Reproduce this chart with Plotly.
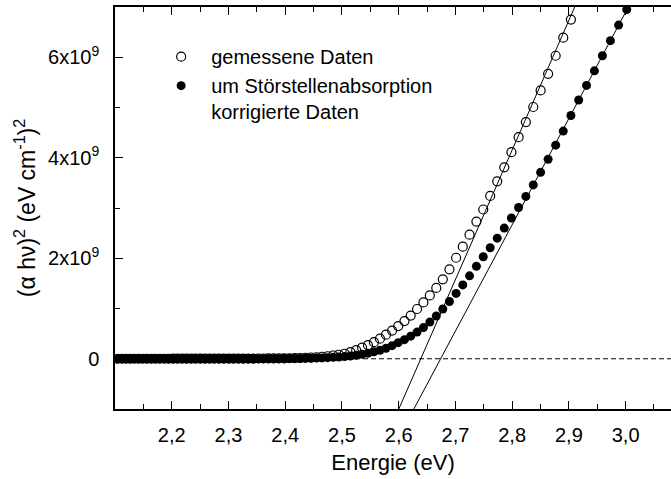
import plotly.graph_objects as go

# Photon energies (eV) of the measured points
energy = [2.1050, 2.1122, 2.1194, 2.1267, 2.1340, 2.1414, 2.1488, 2.1563, 2.1638, 2.1714,
          2.1790, 2.1867, 2.1944, 2.2022, 2.2101, 2.2180, 2.2259, 2.2340, 2.2420, 2.2502,
          2.2584, 2.2666, 2.2749, 2.2833, 2.2918, 2.3003, 2.3088, 2.3175, 2.3262, 2.3349,
          2.3438, 2.3527, 2.3616, 2.3706, 2.3797, 2.3889, 2.3982, 2.4075, 2.4169, 2.4263,
          2.4358, 2.4454, 2.4551, 2.4649, 2.4747, 2.4846, 2.4946, 2.5047, 2.5149, 2.5251,
          2.5355, 2.5459, 2.5564, 2.5670, 2.5776, 2.5884, 2.5992, 2.6102, 2.6212, 2.6324,
          2.6436, 2.6549, 2.6663, 2.6778, 2.6895, 2.7012, 2.7130, 2.7249, 2.7370, 2.7491,
          2.7613, 2.7737, 2.7861, 2.7987, 2.8114, 2.8242, 2.8372, 2.8502, 2.8634, 2.8767,
          2.8901, 2.9036, 2.9173, 2.9311, 2.9450, 2.9591, 2.9732, 2.9876, 3.0020]

# (alpha h nu)^2 in units of 1e9 (eV/cm)^2 -- measured data
measured = [0.000, 0.000, 0.000, 0.000, 0.000, 0.000, 0.000, 0.000, 0.000, 0.000,
            0.000, 0.000, 0.000, 0.001, 0.001, 0.001, 0.001, 0.001, 0.001, 0.002,
            0.002, 0.002, 0.002, 0.002, 0.003, 0.003, 0.003, 0.003, 0.004, 0.004,
            0.004, 0.005, 0.005, 0.006, 0.007, 0.008, 0.009, 0.010, 0.012, 0.015,
            0.020, 0.025, 0.030, 0.040, 0.050, 0.065, 0.080, 0.100, 0.130, 0.170,
            0.220, 0.270, 0.330, 0.400, 0.480, 0.560, 0.650, 0.750, 0.860, 0.990,
            1.120, 1.260, 1.410, 1.580, 1.780, 2.010, 2.230, 2.470, 2.730, 2.970,
            3.240, 3.530, 3.810, 4.110, 4.410, 4.710, 5.010, 5.340, 5.670, 6.030,
            6.390, 6.750, None, None, None, None, None, None, None]

# corrected for impurity absorption
corrected = [0.000, 0.000, 0.000, 0.000, 0.000, 0.000, 0.000, 0.000, 0.000, 0.000,
             0.000, 0.000, 0.000, 0.000, 0.000, 0.000, 0.000, 0.000, 0.000, 0.000,
             0.000, 0.000, 0.000, 0.000, 0.000, 0.001, 0.001, 0.001, 0.001, 0.001,
             0.001, 0.001, 0.001, 0.002, 0.002, 0.002, 0.003, 0.003, 0.004, 0.006,
             0.008, 0.010, 0.013, 0.017, 0.022, 0.028, 0.035, 0.045, 0.055, 0.070,
             0.090, 0.110, 0.140, 0.170, 0.210, 0.260, 0.320, 0.380, 0.450, 0.530,
             0.620, 0.730, 0.850, 0.990, 1.140, 1.300, 1.470, 1.650, 1.840, 2.030,
             2.210, 2.400, 2.600, 2.800, 3.010, 3.230, 3.460, 3.710, 3.970, 4.250,
             4.530, 4.840, 5.150, 5.440, 5.730, 6.030, 6.330, 6.640, 6.950]

# Linear fits: zero crossing (eV) and slope (1e9 per eV)
fit_x0 = [2.639, 2.674]
fit_slope = [25.8, 21.16]

x_ticks = [2.2, 2.3, 2.4, 2.5, 2.6, 2.7, 2.8, 2.9, 3.0]
x_ticktext = ["2,2", "2,3", "2,4", "2,5", "2,6", "2,7", "2,8", "2,9", "3,0"]
x_minor = [2.15, 2.25, 2.35, 2.45, 2.55, 2.65, 2.75, 2.85, 2.95, 3.05]
y_ticks = [0, 2e9, 4e9, 6e9]
y_ticktext = ["0", "2x10<sup>9</sup>", "4x10<sup>9</sup>", "6x10<sup>9</sup>"]
y_minor = [1e9, 3e9, 5e9]

x_range = [2.1, 3.08]
y_range = [-1e9, 7e9]

FONT = "Liberation Sans, Arial, Helvetica, sans-serif"

fig = go.Figure()

# zero line (dashed)
fig.add_trace(go.Scatter(x=x_range, y=[0, 0], mode="lines",
                         line=dict(color="black", width=1, dash="5px,3px"),
                         showlegend=False, hoverinfo="skip", cliponaxis=True))

# fit lines
for x0, s in zip(fit_x0, fit_slope):
    xs = [x0 + y_range[0] / 1e9 / s, x0 + y_range[1] / 1e9 / s]
    fig.add_trace(go.Scatter(x=xs, y=list(y_range), mode="lines",
                             line=dict(color="black", width=1),
                             showlegend=False, hoverinfo="skip"))

fig.add_trace(go.Scatter(x=energy, y=[v * 1e9 if v is not None else None for v in measured],
                         mode="markers", name="gemessene Daten",
                         marker=dict(symbol="circle-open", size=9, color="black",
                                     line=dict(width=1.2, color="black"))))
fig.add_trace(go.Scatter(x=energy, y=[v * 1e9 for v in corrected],
                         mode="markers",
                         name="um Störstellenabsorption<br>korrigierte Daten",
                         marker=dict(symbol="circle", size=9, color="black")))

fig.update_layout(
    width=671, height=479,
    margin=dict(l=115, r=0, t=7, b=70),
    paper_bgcolor="white", plot_bgcolor="white",
    font=dict(family=FONT, size=20, color="black"),
    legend=dict(x=0.065, y=0.925, xanchor="left", yanchor="top",
                bgcolor="rgba(0,0,0,0)", font=dict(size=20, family=FONT),
                valign="top", tracegroupgap=0, itemwidth=50),
    xaxis=dict(range=x_range, showline=True, linecolor="black", linewidth=1.5,
               mirror="ticks", ticks="inside", ticklen=8, tickwidth=1.2, tickcolor="black",
               tickvals=x_ticks, ticktext=x_ticktext, showgrid=False, zeroline=False,
               showspikes=False, ticklabelstandoff=7,
               minor=dict(ticks="inside", ticklen=5, tickwidth=1.2, tickcolor="black",
                          tickmode="array", tickvals=x_minor, showgrid=False),
               title=dict(text="Energie (eV)", font=dict(size=22, family=FONT), standoff=10)),
    yaxis=dict(range=y_range, showline=True, linecolor="black", linewidth=1.5,
               mirror=False, ticks="inside", ticklen=8, tickwidth=1.2, tickcolor="black",
               tickvals=y_ticks, ticktext=y_ticktext, showgrid=False, zeroline=False,
               showspikes=False, ticklabelstandoff=10,
               minor=dict(ticks="inside", ticklen=5, tickwidth=1.2, tickcolor="black",
                          tickmode="array", tickvals=y_minor, showgrid=False),
               title=dict(text="(α hν)<sup>2</sup> (eV cm<sup>-1</sup>)<sup>2</sup>",
                          font=dict(size=23, family=FONT), standoff=6)),
)

fig.write_html("out.html", config={"displayModeBar": False})
